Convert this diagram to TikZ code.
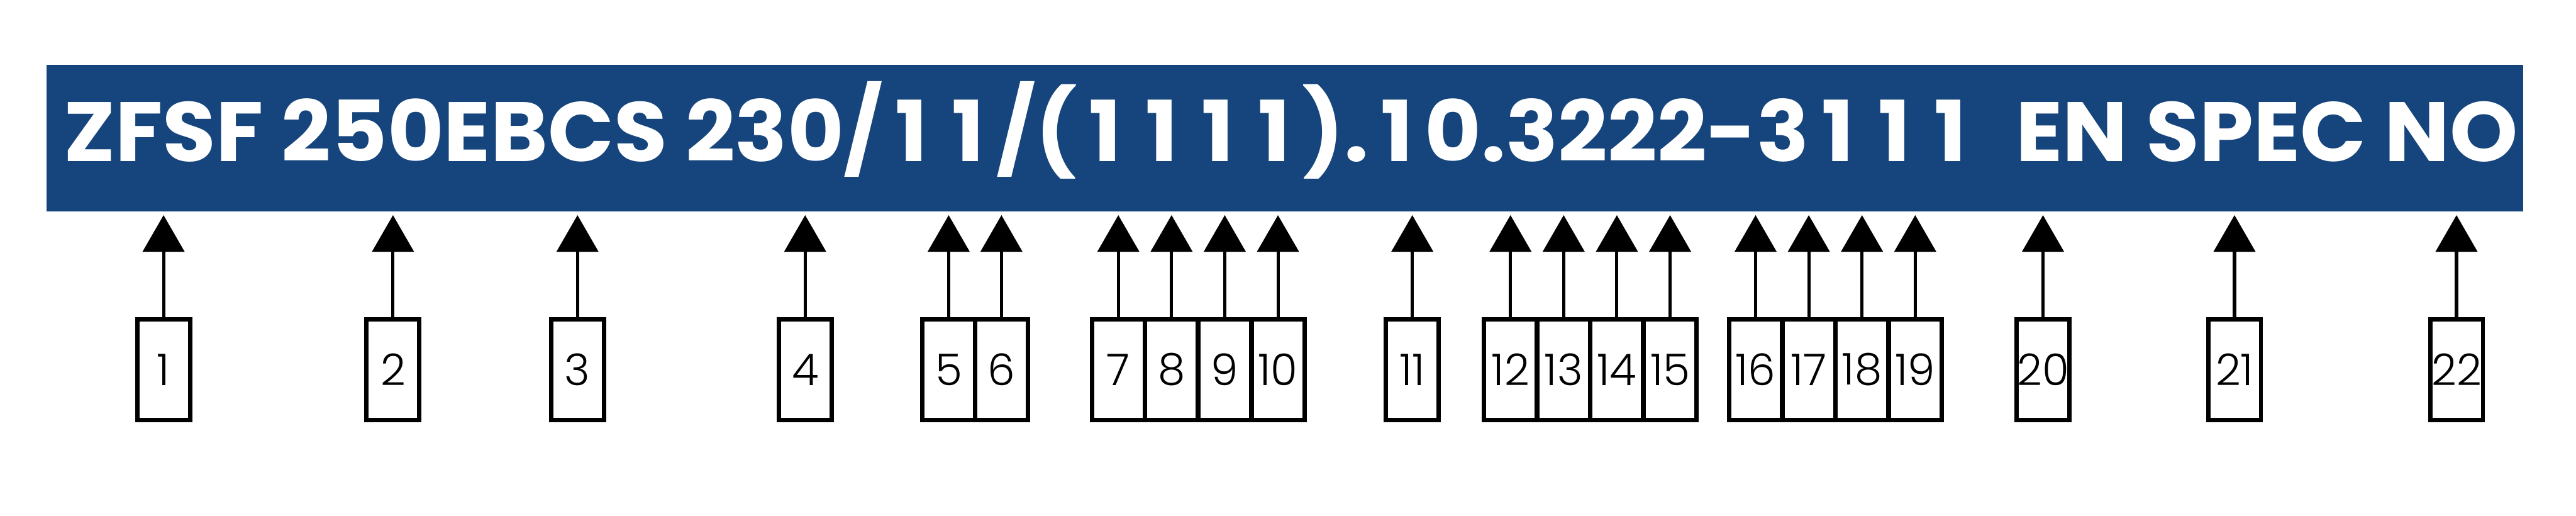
\documentclass[tikz,border=0pt]{standalone}
\usepackage{fontspec}
\usepackage{graphicx}
\usepackage{xcolor}
\usetikzlibrary{arrows.meta}
\newfontfamily\bannerfont{Poppins Bold}
\newfontfamily\numfont{Poppins Light}
\definecolor{codeblue}{HTML}{15457C}
\newcommand{\codeline}[1]{\resizebox{56.27cm}{1.36cm}{\smash{#1}\vrule height\fontcharht\font`\Z width 0pt}}
% a one as wide as the other digits
\newcommand{\wone}{\makebox[\fontcharwd\font`\0]{1}}
% size of the box numbers, so that a digit is 0.70cm high
\newlength\numsize
\AtBeginDocument{{\numfont\fontsize{10pt}{10pt}\selectfont
  \global\numsize=\dimexpr 10pt*\number\dimexpr0.70cm\relax/\number\fontcharht\font`\1\relax}}
\tikzset{
  numbox/.style={draw, line width=0.1cm, minimum width=1.21cm, minimum height=2.30cm,
    inner sep=0pt, outer sep=0pt, font=\numfont\fontsize{\numsize}{\numsize}\selectfont},
  pointer/.style={line width=0.073cm, -{Triangle[width=0.95cm,length=0.84cm]}}
}

\begin{document}
\begin{tikzpicture}[x=1cm,y=1cm]
\useasboundingbox (0,0) rectangle (59.06,-11.81);
\fill[codeblue] (1.06,-1.48) rectangle (57.85,-4.85);
\node[anchor=base west, inner sep=0pt, text=white, font=\bannerfont] (code) at (1.45,-3.70)
  {\codeline{ZFSF 250EBCS 230/\wone\wone/(\wone\wone\wone\wone).\wone0.3222-3\wone\wone\wone\ \ EN SPEC NO}};
\coordinate (tips) at (0,-4.93);
\node[numbox] (n1) at (3.75,-8.47) {1};
\node[numbox] (n2) at (9.01,-8.47) {2};
\node[numbox] (n3) at (13.24,-8.47) {3};
\node[numbox] (n4) at (18.46,-8.47) {4};
\node[numbox] (n5) at (21.75,-8.47) {5};
\node[numbox] (n6) at (22.96,-8.47) {6};
\node[numbox] (n7) at (25.64,-8.47) {7};
\node[numbox] (n8) at (26.86,-8.47) {8};
\node[numbox] (n9) at (28.08,-8.47) {9};
\node[numbox] (n10) at (29.30,-8.47) {10};
\node[numbox] (n11) at (32.38,-8.47) {11};
\node[numbox] (n12) at (34.63,-8.47) {12};
\node[numbox] (n13) at (35.85,-8.47) {13};
\node[numbox] (n14) at (37.07,-8.47) {14};
\node[numbox] (n15) at (38.29,-8.47) {15};
\node[numbox] (n16) at (40.25,-8.47) {16};
\node[numbox] (n17) at (41.47,-8.47) {17};
\node[numbox] (n18) at (42.69,-8.47) {18};
\node[numbox] (n19) at (43.91,-8.47) {19};
\node[numbox] (n20) at (46.84,-8.47) {20};
\node[numbox] (n21) at (51.23,-8.47) {21};
\node[numbox] (n22) at (56.32,-8.47) {22};
\draw[pointer] (n1) -- (n1 |- tips);
\draw[pointer] (n2) -- (n2 |- tips);
\draw[pointer] (n3) -- (n3 |- tips);
\draw[pointer] (n4) -- (n4 |- tips);
\draw[pointer] (n5) -- (n5 |- tips);
\draw[pointer] (n6) -- (n6 |- tips);
\draw[pointer] (n7) -- (n7 |- tips);
\draw[pointer] (n8) -- (n8 |- tips);
\draw[pointer] (n9) -- (n9 |- tips);
\draw[pointer] (n10) -- (n10 |- tips);
\draw[pointer] (n11) -- (n11 |- tips);
\draw[pointer] (n12) -- (n12 |- tips);
\draw[pointer] (n13) -- (n13 |- tips);
\draw[pointer] (n14) -- (n14 |- tips);
\draw[pointer] (n15) -- (n15 |- tips);
\draw[pointer] (n16) -- (n16 |- tips);
\draw[pointer] (n17) -- (n17 |- tips);
\draw[pointer] (n18) -- (n18 |- tips);
\draw[pointer] (n19) -- (n19 |- tips);
\draw[pointer] (n20) -- (n20 |- tips);
\draw[pointer] (n21) -- (n21 |- tips);
\draw[pointer] (n22) -- (n22 |- tips);
\end{tikzpicture}
\end{document}
